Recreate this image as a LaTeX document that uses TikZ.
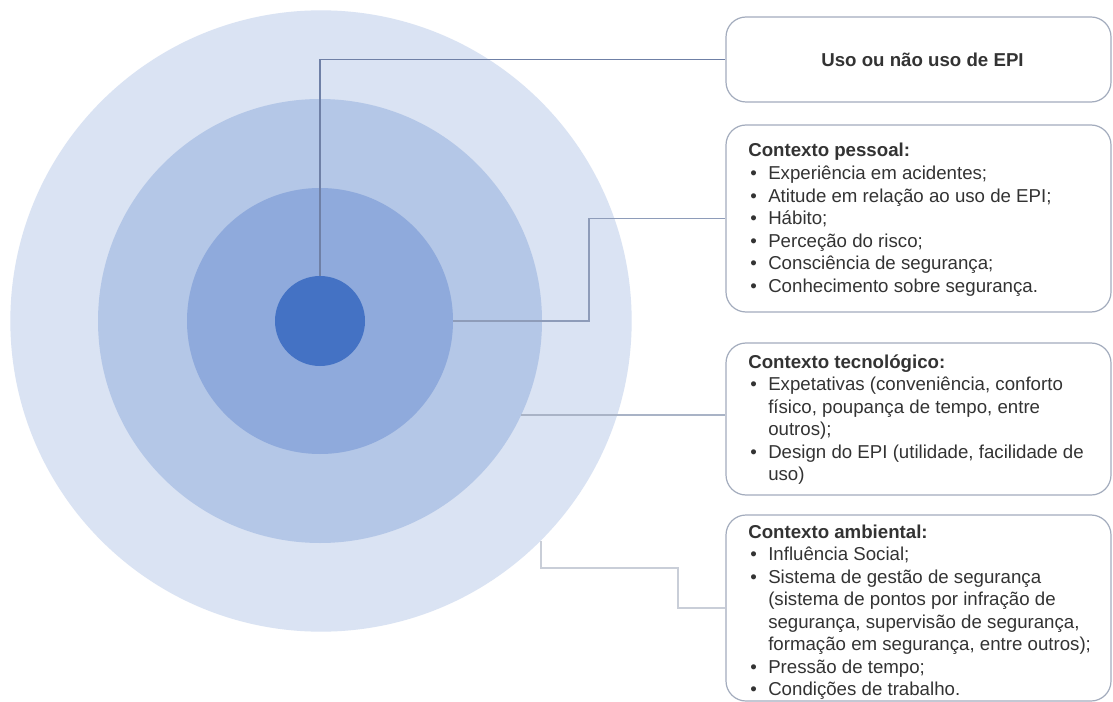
\documentclass[tikz,border=0pt]{standalone}
\usepackage{fontspec}
\setmainfont{Liberation Sans}
\definecolor{ringA}{HTML}{DAE3F3}
\definecolor{ringB}{HTML}{B4C7E7}
\definecolor{ringC}{HTML}{8FAADC}
\definecolor{ringD}{HTML}{4472C4}
\definecolor{boxline}{HTML}{A3ACBD}
\definecolor{txt}{HTML}{333333}
\definecolor{linkA}{HTML}{6F80A6}
\definecolor{linkB}{HTML}{8E9CB9}
\definecolor{linkC}{HTML}{A9B3C6}
\definecolor{linkD}{HTML}{C9CED8}
\newcommand{\bul}{\makebox[15pt][l]{\hspace{1.5pt}•}}
\newcommand{\ind}{\hspace*{15pt}}
\begin{document}
\begin{tikzpicture}[x=0.75pt,y=-0.75pt,
  ring/.style={circle,draw=none,inner sep=0pt},
  infobox/.style={draw=boxline,line width=0.9pt,rounded corners=15pt,minimum width=288.75pt,inner sep=0pt},
  infotext/.style={anchor=base west,inner sep=0pt,text=txt,font=\fontsize{14pt}{16.9pt}\selectfont},
  link/.style={line width=1pt}]
\useasboundingbox[fill=white] (0,0) rectangle (1113,702);
% concentric circles
\node[ring,fill=ringA,minimum size=466pt] (c1) at (321,321) {};
\node[ring,fill=ringB,minimum size=333pt] (c2) at (320,321) {};
\node[ring,fill=ringC,minimum size=199.5pt] (c3) at (320,321) {};
\node[ring,fill=ringD,minimum size=67.5pt] (c4) at (320,321) {};
% boxes
\node[infobox,minimum height=63.75pt] (b1) at (918.5,59.5) {};
\node[infobox,minimum height=140.25pt] (b2) at (918.5,218.5) {};
\node[infobox,minimum height=114pt] (b3) at (918.5,419) {};
\node[infobox,minimum height=139.5pt] (b4) at (918.5,608) {};
% texts
\node[text=txt,font=\fontsize{14pt}{16.9pt}\selectfont\bfseries] (t1) at ([xshift=3pt]b1.center) {Uso ou não uso de EPI};
\node[infotext] (t2) at (748,157) {\begin{tabular}[t]{@{}l@{}}
\textbf{Contexto pessoal:}\\
\bul Experiência em acidentes;\\
\bul Atitude em relação ao uso de EPI;\\
\bul Hábito;\\
\bul Perceção do risco;\\
\bul Consciência de segurança;\\
\bul Conhecimento sobre segurança.
\end{tabular}};
\node[infotext] (t3) at (748,368) {\begin{tabular}[t]{@{}l@{}}
\textbf{Contexto tecnológico:}\\
\bul Expetativas (conveniência, conforto\\
\ind físico, poupança de tempo, entre\\
\ind outros);\\
\bul Design do EPI (utilidade, facilidade de\\
\ind uso)
\end{tabular}};
\node[infotext] (t4) at (748,538) {\begin{tabular}[t]{@{}l@{}}
\textbf{Contexto ambiental:}\\
\bul Influência Social;\\
\bul Sistema de gestão de segurança\\
\ind (sistema de pontos por infração de\\
\ind segurança, supervisão de segurança,\\
\ind formação em segurança, entre outros);\\
\bul Pressão de tempo;\\
\bul Condições de trabalho.
\end{tabular}};
% connectors
\coordinate (k2) at (589,321);
\coordinate (k4) at (678,568);
\draw[link,draw=linkA] (c4.north) |- (b1.west);
\draw[link,draw=linkB] (c3.east) -- (k2) |- (b2.west);
\draw[link,draw=linkC] (c2.-25.8) -- (c2.-25.8 -| b3.west);
\draw[link,draw=linkD] (c1.-45) |- (k4) |- (b4.west);
\end{tikzpicture}
\end{document}
